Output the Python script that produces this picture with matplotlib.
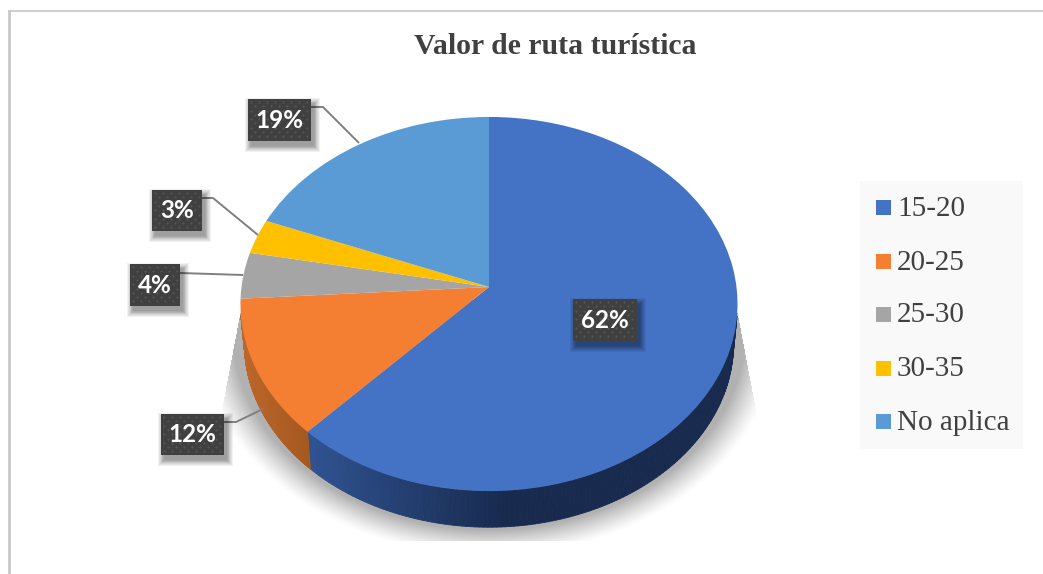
"""Pie chart: Valor de ruta turistica."""
import matplotlib
matplotlib.use("Agg")
import matplotlib.pyplot as plt
import numpy as np
from matplotlib.collections import PolyCollection
from matplotlib.colors import to_rgb
from matplotlib.patches import Rectangle
from matplotlib.transforms import Transform

categories = ["15-20", "20-25", "25-30", "30-35", "No aplica"]
values = [62, 12, 4, 3, 19]
colors = ["#4472c4", "#f47f32", "#a5a5a5", "#ffc000", "#5b9bd5"]
side_dark = {0: ("#2f5290", "#182b4f"), 1: ("#bb662a", "#a3581f")}

W, H = 1043, 574
CX = 489
K = 0.0909  # perspective of the tilted pie


def project(xy, a, b, y0):
    d = 1 + K * xy[:, 1]
    return np.column_stack([CX + a * xy[:, 0] / d, y0 - b * xy[:, 1] / d])


class PieProjection(Transform):
    input_dims = output_dims = 2

    def transform_non_affine(self, values):
        return project(np.asarray(values), 247.5, 185.5, 287)


fig = plt.figure(figsize=(W / 100, H / 100), dpi=100)
ax = fig.add_axes([0, 0, 1, 1])
wedges, _ = ax.pie(values, colors=colors, startangle=90, counterclock=False,
                   wedgeprops={"linewidth": 0})
ax.set_aspect("auto")
ax.set_axis_off()

# Frame of the chart
ax.plot([8.5, 8.5], [H, 11], color="#c8c8c8", lw=2, zorder=1, solid_capstyle="butt")
ax.plot([7.5, W], [10.8, 10.8], color="#c0c0c0", lw=1.1, zorder=1, solid_capstyle="butt")

# Soft shadow under the pie
xx, yy = np.meshgrid(np.arange(W) + 0.5, np.arange(H) + 0.5)
dist = (np.sqrt(((xx - CX) / 256.0) ** 2 + ((yy - 332) / 198.0) ** 2) - 1) * 200
shade = np.clip(1 - dist / 26, 0, 1) ** 1.25
shade[yy > 541] = 0
shade[yy < 300] = 0
shade[xx < 241 - (yy - 310) * 0.19] = 0
shade[xx > 737 + (yy - 310) * 0.19] = 0
rgba = np.zeros((H, W, 4))
rgba[..., :3] = 0.45
rgba[..., 3] = shade * 0.55
ax.imshow(rgba, extent=(0, W, H, 0), aspect="auto", zorder=2, interpolation="bilinear")
ax.set_xlim(0, W)
ax.set_ylim(H, 0)

# Side wall of the front slices
bounds = 90 - np.cumsum([0] + values) * 3.6
for i in side_dark:
    t = np.radians(np.linspace(bounds[i], bounds[i + 1], 240))
    t = t[np.sin(t) < -0.15]
    unit = np.column_stack([np.cos(t), np.sin(t)])
    top = project(unit, 247.5, 185.5, 287)
    bot = project(unit, 243.5, 182, 327)
    start, end = to_rgb(side_dark[i][0]), to_rgb(side_dark[i][1])
    n = len(t) - 1
    if i == 0:
        f = np.clip((top[:-1, 0] - 313) / 190, 0, 1)
    else:
        f = np.clip((top[:-1, 0] - 245) / 65, 0, 1)
    quads = [[top[j], top[j + 1], bot[j + 1], bot[j]] for j in range(n)]
    cols = [tuple(s + (e - s) * v for s, e in zip(start, end)) for v in f]
    ax.add_collection(PolyCollection(quads, facecolors=cols, edgecolors=cols, linewidths=0.6, zorder=3))

# Top face of the pie
proj = PieProjection() + ax.transData
for w in wedges:
    w.set_transform(proj)
    w.set_zorder(4)

ax.text(555, 47, "Valor de ruta turística", family="Liberation Serif", weight="bold",
        fontsize=21.4, color="#404040", ha="center", va="center", zorder=6)

# Leader lines
leaders = [([311, 323, 359], [107, 107, 143]),
           ([202, 213, 258], [198, 198, 235]),
           ([180, 243], [273, 275]),
           ([224, 236, 263], [422, 422, 409])]
for lx, ly in leaders:
    ax.plot(lx, ly, color="#7f7f7f", lw=1.4, zorder=5, solid_capstyle="butt")

# Data labels: order follows the slices
boxes = {0: (573, 299, 64, 42), 1: (161, 414, 63, 41), 2: (130, 264, 50, 42),
         3: (152, 190, 50, 41), 4: (248, 99, 63, 42)}
for i, (bx, by, bw, bh) in boxes.items():
    for grow in range(7, -1, -1):
        ax.add_patch(Rectangle((bx + 3 - grow * 0.8, by + 5 - grow * 0.8), bw + 1.6 * grow, bh + 1.6 * grow,
                               facecolor="black", edgecolor="none", alpha=0.055, zorder=7))
    ax.add_patch(Rectangle((bx, by), bw, bh, facecolor="#404040", edgecolor="none", zorder=8))
    dx, dy = [], []
    for r, py in enumerate(np.arange(by + 3, by + bh - 1, 4.3)):
        for px in np.arange(bx + 3 + (r % 2) * 4, bx + bw - 1, 8):
            dx.append(px)
            dy.append(py)
    ax.scatter(dx, dy, s=2.5, color="#565656", linewidths=0, zorder=9)
    ax.text(bx + bw / 2, by + bh / 2 + 0.5, f"{values[i]}%", family="Lato", weight="bold",
            fontsize=17.5, color="white", ha="center", va="center", zorder=10)

# Legend
ax.add_patch(Rectangle((860, 181), 163, 268, facecolor="#f9f9f9", edgecolor="none", zorder=1))
legend_y = [207, 261, 314, 368, 421]
for name, col, ly in zip(categories, colors, legend_y):
    ax.add_patch(Rectangle((876, ly - 7.5), 15, 15, facecolor=col, edgecolor="none", zorder=2))
    ax.text(897, ly + 1.5, name, family="Liberation Serif", fontsize=21, color="#404040",
            ha="left", va="center", zorder=2)

fig.savefig("out.png", dpi=100)
